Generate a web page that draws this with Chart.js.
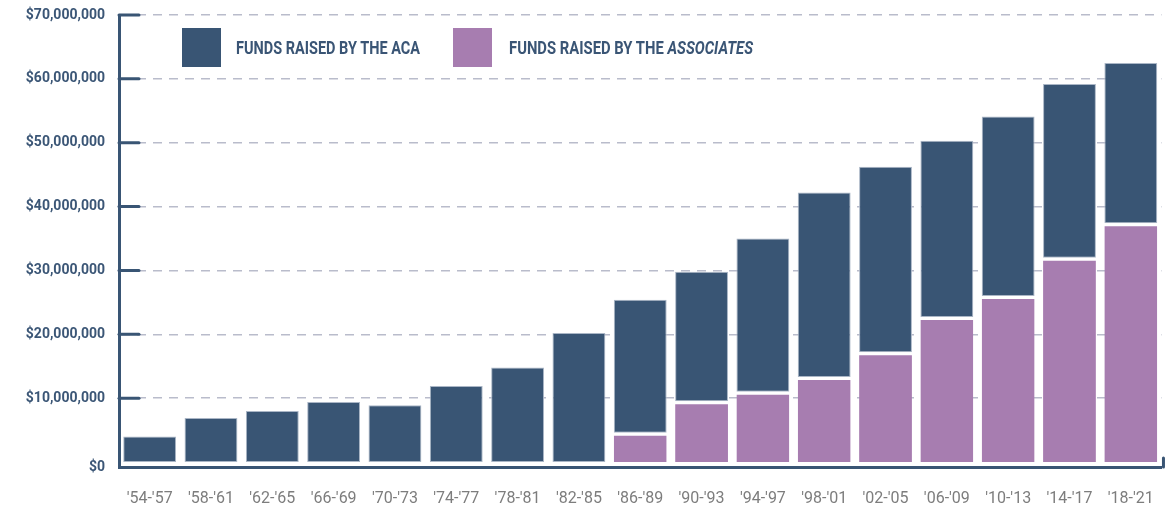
<!DOCTYPE html>
<html>
<head>
<meta charset="utf-8">
<script src="https://cdn.jsdelivr.net/npm/chart.js@4"></script>
<style>
  html, body { margin: 0; padding: 0; background: #ffffff; }
  #wrap { position: relative; width: 1176px; height: 513px; }
  #legende { position: absolute; left: 0; top: 0; }
  .cle { position: absolute; top: 28px; width: 39px; height: 39px; }
  .txt { position: absolute; top: 28px; height: 39px; line-height: 39px; white-space: nowrap;
         font-family: Roboto, sans-serif; font-weight: bold; font-size: 18px; color: #3a5575;
         transform-origin: 0 50%; }
</style>
</head>
<body>
<div id="wrap">
  <canvas id="graph-fonds" width="1176" height="513"></canvas>
  <div id="legende">
    <div class="cle" style="left:182px;background:#395574"></div>
    <div class="txt" data-largeur="184" style="left:236px">FUNDS RAISED BY THE ACA</div>
    <div class="cle" style="left:453px;background:#a77db0"></div>
    <div class="txt" data-largeur="244" style="left:509px">FUNDS RAISED BY THE <i>ASSOCIATES</i></div>
  </div>
</div>
<script>
// périodes (axe x)
const periodes = ["'54-'57", "'58-'61", "'62-'65", "'66-'69", "'70-'73", "'74-'77", "'78-'81", "'82-'85",
    "'86-'89", "'90-'93", "'94-'97", "'98-'01", "'02-'05", "'06-'09", "'10-'13", "'14-'17", "'18-'21"];

// fonds levés par les Associates (bas de la pile), en dollars
const fondsAssociates = [null, null, null, null, null, null, null, null,
    4600000, 9500000, 11000000, 13300000, 17200000, 22700000, 26000000, 32000000, 37400000];

// fonds levés par l'ACA (haut de la pile), en dollars
const fondsACA = [4000000, 6900000, 8000000, 9400000, 8900000, 11900000, 14800000, 20200000,
    20800000, 20300000, 24000000, 28900000, 29050000, 27600000, 28100000, 27200000, 25100000];

// graduations de l'axe y
const graduations = [0, 10000000, 20000000, 30000000, 40000000, 50000000, 60000000, 70000000];

const BLEU = "#395574";
const VIOLET = "#a77db0";

// texte de la légende resserré comme une police condensée
document.querySelectorAll(".txt").forEach(el => {
    const w = el.getBoundingClientRect().width;
    el.style.transform = `scaleX(${el.dataset.largeur / w})`;
});

// petits traits bleus sur l'axe y + crochet au bout de l'axe x
const traitsAxes = {
    id: "traitsAxes",
    afterDraw(chart) {
        const { ctx, chartArea, scales } = chart;
        ctx.save();
        ctx.strokeStyle = BLEU;
        ctx.lineWidth = 3;
        ctx.lineCap = "round";
        graduations.forEach(v => {
            if (v <= 0) return;
            const y = scales.y.getPixelForValue(v);
            ctx.beginPath();
            ctx.moveTo(chartArea.left, y);
            ctx.lineTo(chartArea.left + 20, y);
            ctx.stroke();
        });
        ctx.beginPath();
        ctx.moveTo(chartArea.right + 2, chartArea.bottom);
        ctx.lineTo(chartArea.right + 2, chartArea.bottom - 9);
        ctx.stroke();
        ctx.restore();
    }
};

const ctx = document.getElementById("graph-fonds").getContext("2d");

new Chart(ctx, {
    type: "bar",
    data: {
        labels: periodes,
        datasets: [
            {
                label: "Funds raised by the Associates",
                data: fondsAssociates,
                backgroundColor: VIOLET,
                borderColor: "#ffffff",
                borderWidth: { top: 3, left: 0, right: 0, bottom: 0 },
                borderSkipped: false
            },
            {
                label: "Funds raised by the ACA",
                data: fondsACA,
                backgroundColor: BLEU,
                borderColor: "#aab6c6",
                borderWidth: 1,
                borderSkipped: false
            }
        ]
    },
    plugins: [traitsAxes],
    options: {
        responsive: false,
        animation: false,
        layout: { padding: { top: 15, right: 7, left: 0, bottom: 0 } },
        datasets: { bar: { categoryPercentage: 1, barPercentage: 0.862 } },
        plugins: {
            legend: { display: false },
            tooltip: { enabled: false }
        },
        scales: {
            x: {
                stacked: true,
                grid: { display: false, drawTicks: false },
                border: { display: true, color: BLEU, width: 3 },
                ticks: { color: "#7d7d7d", padding: 22, font: { family: "Roboto", size: 16 } },
                afterFit: s => { s.height = 46; }
            },
            y: {
                stacked: true,
                min: -780000,
                max: 70000000,
                afterBuildTicks: s => {
                    s.ticks = graduations.map(v => ({ value: v <= 0 ? s.min : v }));
                },
                grid: {
                    color: c => (c.tick && c.tick.value <= 0) ? "rgba(0,0,0,0)" : "#b9bccb",
                    lineWidth: 1.5,
                    drawTicks: false
                },
                border: { display: true, color: BLEU, width: 3, dash: [9, 7] },
                ticks: {
                    color: "#3b5676",
                    padding: 14,
                    font: { family: "Roboto", size: 14, weight: "bold" },
                    callback: v => v <= 0 ? "$0" : "$" + Number(v).toLocaleString("en-US")
                },
                afterFit: s => { s.width = 119; s.paddingTop = 0; s.paddingBottom = 0; }
            }
        }
    }
});
</script>
</body>
</html>
